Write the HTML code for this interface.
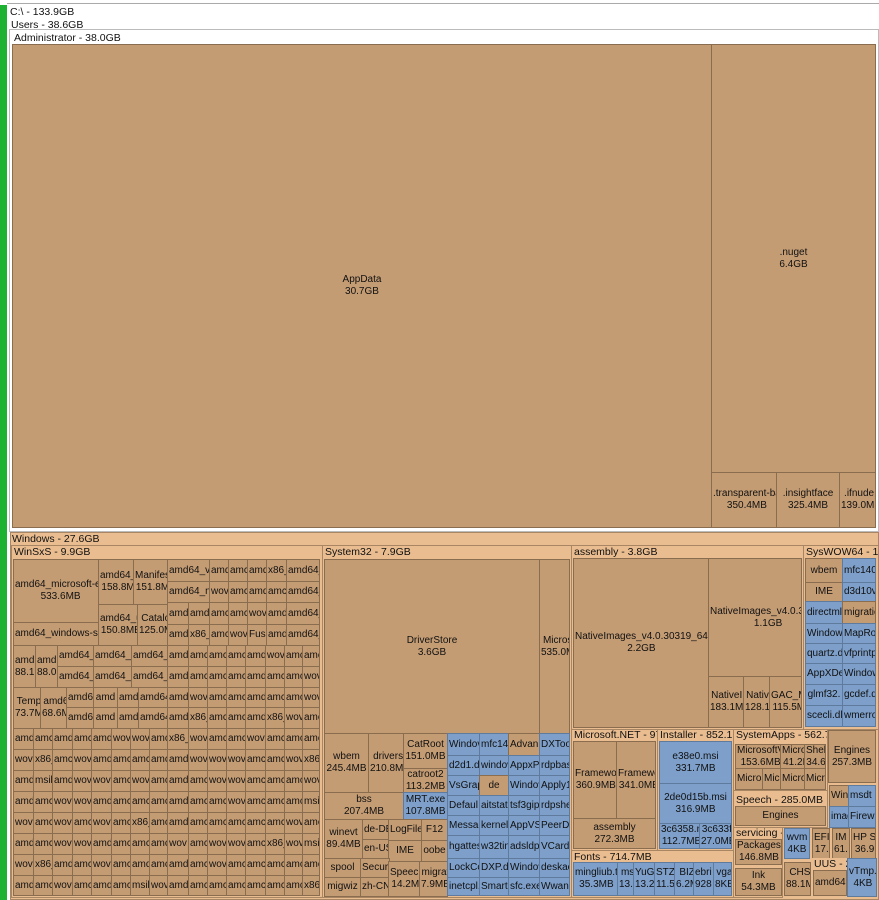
<!DOCTYPE html>
<html><head><meta charset="utf-8"><style>
*{margin:0;padding:0;box-sizing:border-box}
body{width:879px;height:900px;position:relative;background:#fff;font-family:"Liberation Sans",Tahoma,sans-serif;font-size:10px;color:#111;overflow:hidden}
div{position:absolute}
.t,.b{border:1px solid #8a6d4f;background:#c49c74;display:flex;align-items:center;justify-content:safe center;text-align:center;overflow:hidden;white-space:nowrap;line-height:12px;padding:0 1px}
.b{background:#7d9fc9;border-color:#5e7a9c}
.p{background:#e9bd90;border:1px solid #a88563}
.h{white-space:nowrap;overflow:hidden;line-height:12px;padding-left:2px;font-size:10.5px}
</style></head><body>
<div style="left:0;top:5px;width:7px;height:895px;background:#1db231"></div>
<div style="left:7px;top:3px;width:872px;height:1px;background:#aaa"></div>
<div class="h" style="left:8px;top:6px;width:200px">C:\ - 133.9GB</div>
<div class="h" style="left:9px;top:19px;width:200px">Users - 38.6GB</div>
<div style="left:10px;top:30px;width:868px;height:501px;border:2px solid #fff;outline:1px solid #bbb;background:#fff"></div>
<div class="h" style="left:12px;top:32px;width:200px">Administrator - 38.0GB</div>
<div class="t" style="left:12px;top:44px;width:700px;height:484px">AppData<br>30.7GB</div>
<div class="t" style="left:711px;top:44px;width:165px;height:429px">.nuget<br>6.4GB</div>
<div class="t" style="left:711px;top:472px;width:66px;height:56px">.transparent-ba<br>350.4MB</div>
<div class="t" style="left:776px;top:472px;width:64px;height:56px">.insightface<br>325.4MB</div>
<div class="t" style="left:839px;top:472px;width:37px;height:56px">.ifnude<br>139.0MI</div>

<div class="p" style="left:10px;top:532px;width:869px;height:368px"></div>
<div class="h" style="left:10px;top:533px;width:200px">Windows - 27.6GB</div>

<div class="p" style="left:11px;top:545px;width:312px;height:353px"></div>
<div class="h" style="left:12px;top:546px;width:200px">WinSxS - 9.9GB</div>
<div class="t" style="left:13px;top:559px;width:86px;height:64px">amd64_microsoft-ed<br>533.6MB</div>
<div class="t" style="left:13px;top:622px;width:86px;height:24px">amd64_windows-se</div>
<div class="t" style="left:98px;top:559px;width:36px;height:46px">amd64_<br>158.8M</div>
<div class="t" style="left:133px;top:559px;width:35px;height:46px">Manifes<br>151.8M</div>
<div class="t" style="left:98px;top:604px;width:40px;height:42px">amd64_u<br>150.8MB</div>
<div class="t" style="left:137px;top:604px;width:31px;height:42px">Catalo<br>125.0M</div>
<div class="t" style="left:167px;top:559px;width:43px;height:23px">amd64_v</div><div class="t" style="left:209px;top:559px;width:20px;height:23px">amd</div><div class="t" style="left:228px;top:559px;width:20px;height:23px">amc</div><div class="t" style="left:247px;top:559px;width:20px;height:23px">amd</div><div class="t" style="left:266px;top:559px;width:21px;height:23px">x86_</div><div class="t" style="left:286px;top:559px;width:34px;height:23px">amd64_</div>
<div class="t" style="left:167px;top:581px;width:43px;height:22px">amd64_n</div><div class="t" style="left:209px;top:581px;width:20px;height:22px">wov</div><div class="t" style="left:228px;top:581px;width:20px;height:22px">amc</div><div class="t" style="left:247px;top:581px;width:20px;height:22px">amd</div><div class="t" style="left:266px;top:581px;width:21px;height:22px">amc</div><div class="t" style="left:286px;top:581px;width:34px;height:22px">amd64_</div>
<div class="t" style="left:167px;top:602px;width:22px;height:23px">amd</div><div class="t" style="left:188px;top:602px;width:22px;height:23px">amd</div><div class="t" style="left:209px;top:602px;width:20px;height:23px">amc</div><div class="t" style="left:228px;top:602px;width:20px;height:23px">amc</div><div class="t" style="left:247px;top:602px;width:20px;height:23px">wov</div><div class="t" style="left:266px;top:602px;width:21px;height:23px">amd</div><div class="t" style="left:286px;top:602px;width:34px;height:23px">amd64_</div>
<div class="t" style="left:167px;top:624px;width:22px;height:22px">amd</div><div class="t" style="left:188px;top:624px;width:22px;height:22px">x86_</div><div class="t" style="left:209px;top:624px;width:20px;height:22px">amc</div><div class="t" style="left:228px;top:624px;width:20px;height:22px">wov</div><div class="t" style="left:247px;top:624px;width:20px;height:22px">Fusi</div><div class="t" style="left:266px;top:624px;width:21px;height:22px">amd</div><div class="t" style="left:286px;top:624px;width:34px;height:22px">amd64_</div>
<div class="t" style="left:13px;top:645px;width:23px;height:43px">amd<br>88.1</div>
<div class="t" style="left:35px;top:645px;width:23px;height:43px">amd<br>88.0</div>
<div class="t" style="left:57px;top:645px;width:37px;height:22px">amd64_</div><div class="t" style="left:93px;top:645px;width:39px;height:22px">amd64_</div><div class="t" style="left:131px;top:645px;width:37px;height:22px">amd64_</div>
<div class="t" style="left:57px;top:666px;width:37px;height:22px">amd64_</div><div class="t" style="left:93px;top:666px;width:39px;height:22px">amd64_</div><div class="t" style="left:131px;top:666px;width:37px;height:22px">amd64_</div>
<div class="t" style="left:13px;top:687px;width:28px;height:42px">Temp<br>73.7M</div>
<div class="t" style="left:40px;top:687px;width:27px;height:42px">amd6<br>68.6M</div>
<div class="t" style="left:66px;top:687px;width:28px;height:21px">amd6</div><div class="t" style="left:93px;top:687px;width:25px;height:21px">amd</div><div class="t" style="left:117px;top:687px;width:22px;height:21px">amd</div><div class="t" style="left:138px;top:687px;width:30px;height:21px">amd64</div>
<div class="t" style="left:66px;top:707px;width:28px;height:22px">amd6</div><div class="t" style="left:93px;top:707px;width:25px;height:22px">amd</div><div class="t" style="left:117px;top:707px;width:22px;height:22px">amd</div><div class="t" style="left:138px;top:707px;width:30px;height:22px">amd64</div>
<div class="t" style="left:167px;top:645px;width:22px;height:22px">amd</div><div class="t" style="left:188px;top:645px;width:20px;height:22px">amc</div><div class="t" style="left:207px;top:645px;width:20px;height:22px">amc</div><div class="t" style="left:226px;top:645px;width:20px;height:22px">amc</div><div class="t" style="left:245px;top:645px;width:21px;height:22px">amd</div><div class="t" style="left:265px;top:645px;width:20px;height:22px">wov</div><div class="t" style="left:284px;top:645px;width:19px;height:22px">amc</div><div class="t" style="left:302px;top:645px;width:18px;height:22px">amc</div>
<div class="t" style="left:167px;top:666px;width:22px;height:22px">amd</div><div class="t" style="left:188px;top:666px;width:20px;height:22px">amc</div><div class="t" style="left:207px;top:666px;width:20px;height:22px">amc</div><div class="t" style="left:226px;top:666px;width:20px;height:22px">amc</div><div class="t" style="left:245px;top:666px;width:21px;height:22px">amd</div><div class="t" style="left:265px;top:666px;width:20px;height:22px">amc</div><div class="t" style="left:284px;top:666px;width:19px;height:22px">amc</div><div class="t" style="left:302px;top:666px;width:18px;height:22px">wov</div>
<div class="t" style="left:167px;top:687px;width:22px;height:21px">amd</div><div class="t" style="left:188px;top:687px;width:20px;height:21px">wov</div><div class="t" style="left:207px;top:687px;width:20px;height:21px">amc</div><div class="t" style="left:226px;top:687px;width:20px;height:21px">amc</div><div class="t" style="left:245px;top:687px;width:21px;height:21px">amd</div><div class="t" style="left:265px;top:687px;width:20px;height:21px">amc</div><div class="t" style="left:284px;top:687px;width:19px;height:21px">amc</div><div class="t" style="left:302px;top:687px;width:18px;height:21px">wov</div>
<div class="t" style="left:167px;top:707px;width:22px;height:22px">amd</div><div class="t" style="left:188px;top:707px;width:20px;height:22px">x86_</div><div class="t" style="left:207px;top:707px;width:20px;height:22px">amc</div><div class="t" style="left:226px;top:707px;width:20px;height:22px">amc</div><div class="t" style="left:245px;top:707px;width:21px;height:22px">amd</div><div class="t" style="left:265px;top:707px;width:20px;height:22px">x86_</div><div class="t" style="left:284px;top:707px;width:19px;height:22px">wov</div><div class="t" style="left:302px;top:707px;width:18px;height:22px">amc</div>
<div class="t" style="left:13px;top:728px;width:21px;height:22px">amd</div><div class="t" style="left:33px;top:728px;width:20px;height:22px">amc</div><div class="t" style="left:52px;top:728px;width:21px;height:22px">amd</div><div class="t" style="left:72px;top:728px;width:20px;height:22px">amc</div><div class="t" style="left:91px;top:728px;width:21px;height:22px">amd</div><div class="t" style="left:111px;top:728px;width:20px;height:22px">wov</div><div class="t" style="left:130px;top:728px;width:20px;height:22px">wov</div><div class="t" style="left:149px;top:728px;width:19px;height:22px">amc</div><div class="t" style="left:167px;top:728px;width:22px;height:22px">x86_</div><div class="t" style="left:188px;top:728px;width:20px;height:22px">wov</div><div class="t" style="left:207px;top:728px;width:20px;height:22px">amc</div><div class="t" style="left:226px;top:728px;width:20px;height:22px">amc</div><div class="t" style="left:245px;top:728px;width:21px;height:22px">wov</div><div class="t" style="left:265px;top:728px;width:20px;height:22px">amc</div><div class="t" style="left:284px;top:728px;width:19px;height:22px">amc</div><div class="t" style="left:302px;top:728px;width:18px;height:22px">amc</div>
<div class="t" style="left:13px;top:749px;width:21px;height:22px">wov</div><div class="t" style="left:33px;top:749px;width:20px;height:22px">x86_</div><div class="t" style="left:52px;top:749px;width:21px;height:22px">amc</div><div class="t" style="left:72px;top:749px;width:20px;height:22px">wov</div><div class="t" style="left:91px;top:749px;width:21px;height:22px">amd</div><div class="t" style="left:111px;top:749px;width:20px;height:22px">amc</div><div class="t" style="left:130px;top:749px;width:20px;height:22px">amc</div><div class="t" style="left:149px;top:749px;width:19px;height:22px">amc</div><div class="t" style="left:167px;top:749px;width:22px;height:22px">amd</div><div class="t" style="left:188px;top:749px;width:20px;height:22px">wov</div><div class="t" style="left:207px;top:749px;width:20px;height:22px">wov</div><div class="t" style="left:226px;top:749px;width:20px;height:22px">wov</div><div class="t" style="left:245px;top:749px;width:21px;height:22px">amc</div><div class="t" style="left:265px;top:749px;width:20px;height:22px">amc</div><div class="t" style="left:284px;top:749px;width:19px;height:22px">wov</div><div class="t" style="left:302px;top:749px;width:18px;height:22px">x86_</div>
<div class="t" style="left:13px;top:770px;width:21px;height:22px">amd</div><div class="t" style="left:33px;top:770px;width:20px;height:22px">msil</div><div class="t" style="left:52px;top:770px;width:21px;height:22px">amd</div><div class="t" style="left:72px;top:770px;width:20px;height:22px">wov</div><div class="t" style="left:91px;top:770px;width:21px;height:22px">wov</div><div class="t" style="left:111px;top:770px;width:20px;height:22px">amc</div><div class="t" style="left:130px;top:770px;width:20px;height:22px">wov</div><div class="t" style="left:149px;top:770px;width:19px;height:22px">amc</div><div class="t" style="left:167px;top:770px;width:22px;height:22px">amd</div><div class="t" style="left:188px;top:770px;width:20px;height:22px">amc</div><div class="t" style="left:207px;top:770px;width:20px;height:22px">wov</div><div class="t" style="left:226px;top:770px;width:20px;height:22px">wov</div><div class="t" style="left:245px;top:770px;width:21px;height:22px">amc</div><div class="t" style="left:265px;top:770px;width:20px;height:22px">amc</div><div class="t" style="left:284px;top:770px;width:19px;height:22px">amc</div><div class="t" style="left:302px;top:770px;width:18px;height:22px">wov</div>
<div class="t" style="left:13px;top:791px;width:21px;height:22px">amd</div><div class="t" style="left:33px;top:791px;width:20px;height:22px">amc</div><div class="t" style="left:52px;top:791px;width:21px;height:22px">wov</div><div class="t" style="left:72px;top:791px;width:20px;height:22px">wov</div><div class="t" style="left:91px;top:791px;width:21px;height:22px">amd</div><div class="t" style="left:111px;top:791px;width:20px;height:22px">amc</div><div class="t" style="left:130px;top:791px;width:20px;height:22px">amc</div><div class="t" style="left:149px;top:791px;width:19px;height:22px">amc</div><div class="t" style="left:167px;top:791px;width:22px;height:22px">amd</div><div class="t" style="left:188px;top:791px;width:20px;height:22px">amc</div><div class="t" style="left:207px;top:791px;width:20px;height:22px">amc</div><div class="t" style="left:226px;top:791px;width:20px;height:22px">wov</div><div class="t" style="left:245px;top:791px;width:21px;height:22px">amc</div><div class="t" style="left:265px;top:791px;width:20px;height:22px">amc</div><div class="t" style="left:284px;top:791px;width:19px;height:22px">amc</div><div class="t" style="left:302px;top:791px;width:18px;height:22px">msil</div>
<div class="t" style="left:13px;top:812px;width:21px;height:22px">wov</div><div class="t" style="left:33px;top:812px;width:20px;height:22px">amc</div><div class="t" style="left:52px;top:812px;width:21px;height:22px">wov</div><div class="t" style="left:72px;top:812px;width:20px;height:22px">amc</div><div class="t" style="left:91px;top:812px;width:21px;height:22px">wov</div><div class="t" style="left:111px;top:812px;width:20px;height:22px">amc</div><div class="t" style="left:130px;top:812px;width:20px;height:22px">x86_</div><div class="t" style="left:149px;top:812px;width:19px;height:22px">amc</div><div class="t" style="left:167px;top:812px;width:22px;height:22px">amd</div><div class="t" style="left:188px;top:812px;width:20px;height:22px">amc</div><div class="t" style="left:207px;top:812px;width:20px;height:22px">amc</div><div class="t" style="left:226px;top:812px;width:20px;height:22px">amc</div><div class="t" style="left:245px;top:812px;width:21px;height:22px">amc</div><div class="t" style="left:265px;top:812px;width:20px;height:22px">amc</div><div class="t" style="left:284px;top:812px;width:19px;height:22px">wov</div><div class="t" style="left:302px;top:812px;width:18px;height:22px">amc</div>
<div class="t" style="left:13px;top:833px;width:21px;height:22px">amd</div><div class="t" style="left:33px;top:833px;width:20px;height:22px">amc</div><div class="t" style="left:52px;top:833px;width:21px;height:22px">wov</div><div class="t" style="left:72px;top:833px;width:20px;height:22px">wov</div><div class="t" style="left:91px;top:833px;width:21px;height:22px">amd</div><div class="t" style="left:111px;top:833px;width:20px;height:22px">amc</div><div class="t" style="left:130px;top:833px;width:20px;height:22px">amc</div><div class="t" style="left:149px;top:833px;width:19px;height:22px">amc</div><div class="t" style="left:167px;top:833px;width:22px;height:22px">wov</div><div class="t" style="left:188px;top:833px;width:20px;height:22px">amc</div><div class="t" style="left:207px;top:833px;width:20px;height:22px">wov</div><div class="t" style="left:226px;top:833px;width:20px;height:22px">wov</div><div class="t" style="left:245px;top:833px;width:21px;height:22px">amc</div><div class="t" style="left:265px;top:833px;width:20px;height:22px">x86_</div><div class="t" style="left:284px;top:833px;width:19px;height:22px">wov</div><div class="t" style="left:302px;top:833px;width:18px;height:22px">msil</div>
<div class="t" style="left:13px;top:854px;width:21px;height:22px">wov</div><div class="t" style="left:33px;top:854px;width:20px;height:22px">x86_</div><div class="t" style="left:52px;top:854px;width:21px;height:22px">amd</div><div class="t" style="left:72px;top:854px;width:20px;height:22px">amc</div><div class="t" style="left:91px;top:854px;width:21px;height:22px">wov</div><div class="t" style="left:111px;top:854px;width:20px;height:22px">amc</div><div class="t" style="left:130px;top:854px;width:20px;height:22px">amd</div><div class="t" style="left:149px;top:854px;width:19px;height:22px">amc</div><div class="t" style="left:167px;top:854px;width:22px;height:22px">amd</div><div class="t" style="left:188px;top:854px;width:20px;height:22px">amc</div><div class="t" style="left:207px;top:854px;width:20px;height:22px">wov</div><div class="t" style="left:226px;top:854px;width:20px;height:22px">amc</div><div class="t" style="left:245px;top:854px;width:21px;height:22px">amc</div><div class="t" style="left:265px;top:854px;width:20px;height:22px">amc</div><div class="t" style="left:284px;top:854px;width:19px;height:22px">amc</div><div class="t" style="left:302px;top:854px;width:18px;height:22px">amc</div>
<div class="t" style="left:13px;top:875px;width:21px;height:21px">amd</div><div class="t" style="left:33px;top:875px;width:20px;height:21px">amc</div><div class="t" style="left:52px;top:875px;width:21px;height:21px">wov</div><div class="t" style="left:72px;top:875px;width:20px;height:21px">amc</div><div class="t" style="left:91px;top:875px;width:21px;height:21px">amd</div><div class="t" style="left:111px;top:875px;width:20px;height:21px">amc</div><div class="t" style="left:130px;top:875px;width:20px;height:21px">msil</div><div class="t" style="left:149px;top:875px;width:19px;height:21px">wov</div><div class="t" style="left:167px;top:875px;width:22px;height:21px">amd</div><div class="t" style="left:188px;top:875px;width:20px;height:21px">amc</div><div class="t" style="left:207px;top:875px;width:20px;height:21px">amc</div><div class="t" style="left:226px;top:875px;width:20px;height:21px">amc</div><div class="t" style="left:245px;top:875px;width:21px;height:21px">amc</div><div class="t" style="left:265px;top:875px;width:20px;height:21px">amc</div><div class="t" style="left:284px;top:875px;width:19px;height:21px">amc</div><div class="t" style="left:302px;top:875px;width:18px;height:21px">x86_</div>

<div class="p" style="left:322px;top:545px;width:250px;height:353px"></div>
<div class="h" style="left:323px;top:546px;width:240px">System32 - 7.9GB</div>
<div class="t" style="left:324px;top:559px;width:216px;height:175px">DriverStore<br>3.6GB</div>
<div class="t" style="left:539px;top:559px;width:31px;height:175px;justify-content:flex-start">Micros<br>535.0M</div>
<div class="t" style="left:324px;top:733px;width:45px;height:60px">wbem<br>245.4MB</div>
<div class="t" style="left:368px;top:733px;width:36px;height:60px;justify-content:flex-start">drivers<br>210.8MI</div>
<div class="t" style="left:403px;top:733px;width:45px;height:36px">CatRoot<br>151.0MB</div>
<div class="t" style="left:403px;top:768px;width:45px;height:25px">catroot2<br>113.2MB</div>
<div class="t" style="left:324px;top:792px;width:80px;height:28px">bss<br>207.4MB</div>
<div class="b" style="left:403px;top:792px;width:45px;height:28px">MRT.exe<br>107.8MB</div>
<div class="t" style="left:324px;top:819px;width:39px;height:40px">winevt<br>89.4MB</div>
<div class="t" style="left:362px;top:819px;width:28px;height:21px">de-DE</div>
<div class="t" style="left:362px;top:839px;width:28px;height:20px">en-US</div>
<div class="t" style="left:388px;top:819px;width:34px;height:22px">LogFile</div>
<div class="t" style="left:421px;top:819px;width:27px;height:22px">F12</div>
<div class="t" style="left:388px;top:840px;width:34px;height:22px">IME</div>
<div class="t" style="left:421px;top:840px;width:27px;height:22px">oobe</div>
<div class="t" style="left:324px;top:858px;width:37px;height:20px">spool</div>
<div class="t" style="left:360px;top:858px;width:30px;height:20px">Securi</div>
<div class="t" style="left:324px;top:877px;width:37px;height:20px">migwiz</div>
<div class="t" style="left:360px;top:877px;width:30px;height:20px">zh-CN</div>
<div class="t" style="left:388px;top:861px;width:32px;height:36px">Speecl<br>14.2M</div>
<div class="t" style="left:419px;top:861px;width:29px;height:36px">migrat<br>7.9MB</div>
<div class="b" style="left:447px;top:733px;width:33px;height:23px">Windov</div><div class="b" style="left:479px;top:733px;width:30px;height:23px">mfc140</div><div class="t" style="left:508px;top:733px;width:32px;height:23px">Advan</div><div class="b" style="left:539px;top:733px;width:31px;height:23px">DXToo</div>
<div class="b" style="left:447px;top:755px;width:33px;height:21px">d2d1.d</div><div class="b" style="left:479px;top:755px;width:30px;height:21px">windov</div><div class="b" style="left:508px;top:755px;width:32px;height:21px">AppxP</div><div class="b" style="left:539px;top:755px;width:31px;height:21px">rdpbas</div>
<div class="b" style="left:447px;top:775px;width:33px;height:21px">VsGrap</div><div class="t" style="left:479px;top:775px;width:30px;height:21px">de</div><div class="b" style="left:508px;top:775px;width:32px;height:21px">Windov</div><div class="b" style="left:539px;top:775px;width:31px;height:21px">Apply1</div>
<div class="b" style="left:447px;top:795px;width:33px;height:21px">Defaul</div><div class="b" style="left:479px;top:795px;width:30px;height:21px">aitstati</div><div class="b" style="left:508px;top:795px;width:32px;height:21px">tsf3gip</div><div class="b" style="left:539px;top:795px;width:31px;height:21px">rdpshe</div>
<div class="b" style="left:447px;top:815px;width:33px;height:21px">Messag</div><div class="b" style="left:479px;top:815px;width:30px;height:21px">kernel3</div><div class="b" style="left:508px;top:815px;width:32px;height:21px">AppVS</div><div class="b" style="left:539px;top:815px;width:31px;height:21px">PeerDi</div>
<div class="b" style="left:447px;top:835px;width:33px;height:24px">hgattes</div><div class="b" style="left:479px;top:835px;width:30px;height:24px">w32tin</div><div class="b" style="left:508px;top:835px;width:32px;height:24px">adsldp.</div><div class="b" style="left:539px;top:835px;width:31px;height:24px">VCard</div>
<div class="b" style="left:447px;top:858px;width:33px;height:20px">LockCc</div><div class="b" style="left:479px;top:858px;width:30px;height:20px">DXP.dl</div><div class="b" style="left:508px;top:858px;width:32px;height:20px">Windov</div><div class="b" style="left:539px;top:858px;width:31px;height:20px">deskac</div>
<div class="b" style="left:447px;top:877px;width:33px;height:19px">inetcpl.</div><div class="b" style="left:479px;top:877px;width:30px;height:19px">Smart.</div><div class="b" style="left:508px;top:877px;width:32px;height:19px">sfc.exe</div><div class="b" style="left:539px;top:877px;width:31px;height:19px">Wwan</div>

<div class="p" style="left:571px;top:545px;width:233px;height:185px"></div>
<div class="h" style="left:572px;top:546px;width:230px">assembly - 3.8GB</div>
<div class="t" style="left:573px;top:558px;width:136px;height:170px">NativeImages_v4.0.30319_64<br>2.2GB</div>
<div class="t" style="left:708px;top:558px;width:94px;height:119px;justify-content:flex-start">NativeImages_v4.0.3<br>&nbsp;&nbsp;&nbsp;&nbsp;&nbsp;&nbsp;&nbsp;&nbsp;1.1GB</div>
<div class="t" style="left:708px;top:676px;width:36px;height:52px;justify-content:flex-start">NativeI<br>183.1M</div>
<div class="t" style="left:743px;top:676px;width:27px;height:52px;justify-content:flex-start">Nativ<br>128.1</div>
<div class="t" style="left:769px;top:676px;width:33px;height:52px;justify-content:flex-start">GAC_M<br>115.5M</div>
<div class="p" style="left:803px;top:545px;width:76px;height:185px"></div>
<div class="h" style="left:804px;top:546px;width:75px">SysWOW64 - 1.2</div>
<div class="t" style="left:805px;top:558px;width:38px;height:25px">wbem</div><div class="b" style="left:842px;top:558px;width:34px;height:25px">mfc140</div>
<div class="t" style="left:805px;top:582px;width:38px;height:20px">IME</div><div class="b" style="left:842px;top:582px;width:34px;height:20px">d3d10v</div>
<div class="b" style="left:805px;top:601px;width:38px;height:23px">directml</div><div class="t" style="left:842px;top:601px;width:34px;height:23px">migratic</div>
<div class="b" style="left:805px;top:623px;width:38px;height:21px">Window</div><div class="b" style="left:842px;top:623px;width:34px;height:21px">MapRou</div>
<div class="b" style="left:805px;top:643px;width:38px;height:21px">quartz.d</div><div class="b" style="left:842px;top:643px;width:34px;height:21px">vfprintp</div>
<div class="b" style="left:805px;top:663px;width:38px;height:22px">AppXDe</div><div class="b" style="left:842px;top:663px;width:34px;height:22px">Window</div>
<div class="b" style="left:805px;top:684px;width:38px;height:22px">glmf32.</div><div class="b" style="left:842px;top:684px;width:34px;height:22px">gcdef.dl</div>
<div class="b" style="left:805px;top:705px;width:38px;height:22px">scecli.dll</div><div class="b" style="left:842px;top:705px;width:34px;height:22px">wmerro</div>
<div class="p" style="left:571px;top:729px;width:87px;height:122px"></div>
<div class="h" style="left:572px;top:729px;width:85px">Microsoft.NET - 974</div>
<div class="t" style="left:573px;top:741px;width:44px;height:78px">Framewo<br>360.9MB</div>
<div class="t" style="left:616px;top:741px;width:40px;height:78px">Framewo<br>341.0MB</div>
<div class="t" style="left:573px;top:818px;width:83px;height:31px">assembly<br>272.3MB</div>
<div class="p" style="left:657px;top:729px;width:77px;height:122px"></div>
<div class="h" style="left:658px;top:729px;width:75px">Installer - 852.1M</div>
<div class="b" style="left:659px;top:741px;width:73px;height:43px">e38e0.msi<br>331.7MB</div>
<div class="b" style="left:659px;top:783px;width:73px;height:41px">2de0d15b.msi<br>316.9MB</div>
<div class="b" style="left:659px;top:823px;width:41px;height:26px">3c6358.n<br>112.7MB</div>
<div class="b" style="left:699px;top:823px;width:33px;height:26px;justify-content:flex-start">3c633f.<br>27.0MB</div>
<div class="p" style="left:571px;top:850px;width:163px;height:48px"></div>
<div class="h" style="left:572px;top:851px;width:160px">Fonts - 714.7MB</div>
<div class="b" style="left:573px;top:862px;width:45px;height:34px">mingliub.t<br>35.3MB</div>
<div class="b" style="left:617px;top:862px;width:17px;height:34px;justify-content:flex-start">msj<br>13.7</div>
<div class="b" style="left:633px;top:862px;width:22px;height:34px;justify-content:flex-start">YuG<br>13.2</div>
<div class="b" style="left:654px;top:862px;width:21px;height:34px;justify-content:flex-start">STZ<br>11.5</div>
<div class="b" style="left:674px;top:862px;width:20px;height:34px;justify-content:flex-start">BIZ<br>6.2M</div>
<div class="b" style="left:693px;top:862px;width:21px;height:34px;justify-content:flex-start">ebri<br>928</div>
<div class="b" style="left:713px;top:862px;width:19px;height:34px;justify-content:flex-start">vga<br>8KB</div>
<div class="p" style="left:733px;top:729px;width:95px;height:62px"></div>
<div class="h" style="left:734px;top:729px;width:93px">SystemApps - 562.7M</div>
<div class="t" style="left:735px;top:744px;width:46px;height:25px">MicrosoftV<br>153.6MB</div>
<div class="t" style="left:780px;top:744px;width:25px;height:25px;justify-content:flex-start">Micro<br>41.2I</div>
<div class="t" style="left:804px;top:744px;width:22px;height:25px;justify-content:flex-start">Shel<br>34.6</div>
<div class="t" style="left:735px;top:768px;width:28px;height:22px">Micros</div>
<div class="t" style="left:762px;top:768px;width:19px;height:22px;justify-content:flex-start">Mic</div>
<div class="t" style="left:780px;top:768px;width:25px;height:22px;justify-content:flex-start">Micro</div>
<div class="t" style="left:804px;top:768px;width:22px;height:22px;justify-content:flex-start">Micr</div>
<div class="t" style="left:828px;top:730px;width:48px;height:53px">Engines<br>257.3MB</div>
<div class="t" style="left:829px;top:785px;width:20px;height:22px;justify-content:flex-start">Wind</div>
<div class="b" style="left:848px;top:785px;width:28px;height:22px;justify-content:flex-start">msdt</div>
<div class="b" style="left:829px;top:806px;width:20px;height:22px;justify-content:flex-start">imag</div>
<div class="b" style="left:848px;top:806px;width:28px;height:22px;justify-content:flex-start">Firew</div>
<div class="p" style="left:733px;top:790px;width:95px;height:38px"></div>
<div class="h" style="left:734px;top:794px;width:93px">Speech - 285.0MB</div>
<div class="t" style="left:735px;top:806px;width:91px;height:20px">Engines</div>
<div class="p" style="left:733px;top:827px;width:50px;height:71px"></div>
<div class="h" style="left:734px;top:827px;width:48px">servicing -</div>
<div class="t" style="left:735px;top:839px;width:47px;height:26px">Packages<br>146.8MB</div>
<div class="t" style="left:735px;top:868px;width:47px;height:28px">Ink<br>54.3MB</div>
<div class="b" style="left:784px;top:828px;width:26px;height:31px">wvm<br>4KB</div>
<div class="t" style="left:812px;top:828px;width:18px;height:31px;justify-content:flex-start">EFI<br>17.</div>
<div class="t" style="left:832px;top:828px;width:18px;height:31px;justify-content:flex-start">IM<br>61.</div>
<div class="t" style="left:851px;top:828px;width:25px;height:31px;justify-content:flex-start">HP S<br>36.9</div>
<div class="t" style="left:784px;top:862px;width:27px;height:34px;justify-content:flex-start">CHS<br>88.1M</div>
<div class="h" style="left:812px;top:858px;width:35px;background:#e9bd90">UUS - 2</div>
<div class="t" style="left:813px;top:870px;width:34px;height:26px">amd64</div>
<div class="b" style="left:847px;top:858px;width:30px;height:39px">vTmp.<br>4KB</div>
</body></html>
